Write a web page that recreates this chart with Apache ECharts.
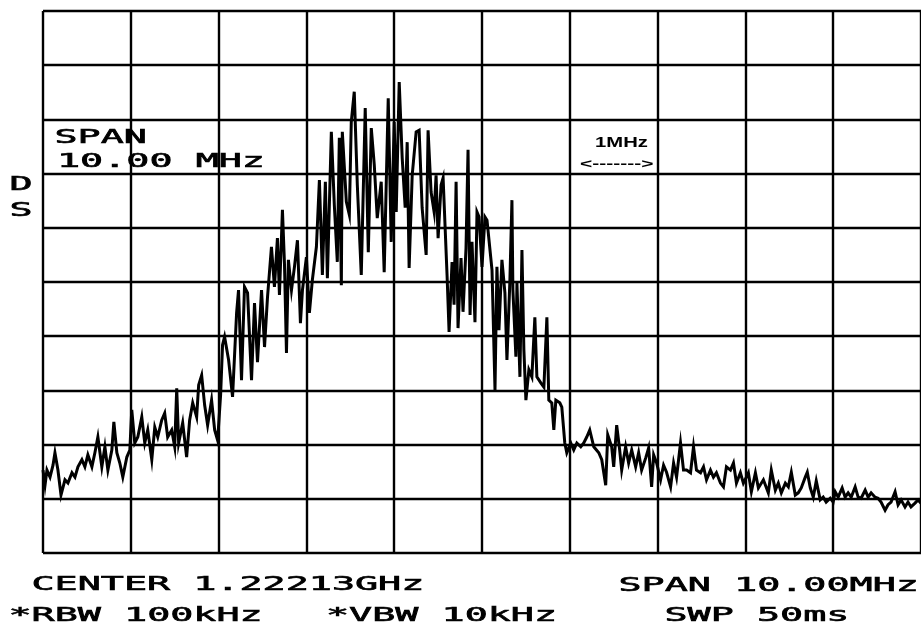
<!DOCTYPE html>
<html>
<head>
<meta charset="utf-8">
<script src="https://cdn.jsdelivr.net/npm/echarts@6/dist/echarts.min.js"></script>
<style>
  html, body { margin: 0; padding: 0; background: #ffffff; }
  #chart { width: 921px; height: 626px; }
</style>
</head>
<body>
<div id="chart"></div>
<script>
// Spectrum analyser trace: frequency offset from centre (MHz) and level (dB below reference)
const freqMHz = [
  -5.000, -4.977, -4.955, -4.920, -4.886, -4.864, -4.830, -4.795, -4.750, -4.716,
  -4.670, -4.636, -4.602, -4.557, -4.523, -4.489, -4.443, -4.409, -4.375, -4.330,
  -4.295, -4.261, -4.216, -4.193, -4.159, -4.125, -4.091, -4.045, -4.011, -3.989,
  -3.955, -3.920, -3.875, -3.841, -3.807, -3.761, -3.727, -3.693, -3.648, -3.614,
  -3.580, -3.534, -3.500, -3.477, -3.455, -3.409, -3.364, -3.330, -3.295, -3.250,
  -3.227, -3.193, -3.159, -3.125, -3.080, -3.045, -3.011, -2.977, -2.955, -2.932,
  -2.886, -2.841, -2.795, -2.773, -2.739, -2.705, -2.670, -2.625, -2.591, -2.557,
  -2.511, -2.477, -2.443, -2.398, -2.364, -2.330, -2.307, -2.273, -2.250, -2.227,
  -2.205, -2.170, -2.136, -2.102, -2.068, -2.045, -2.000, -1.966, -1.932, -1.886,
  -1.852, -1.818, -1.784, -1.761, -1.716, -1.682, -1.648, -1.625, -1.602, -1.591,
  -1.545, -1.511, -1.489, -1.455, -1.420, -1.375, -1.330, -1.295, -1.261, -1.227,
  -1.193, -1.148, -1.114, -1.068, -1.034, -1.000, -0.977, -0.943, -0.909, -0.875,
  -0.852, -0.830, -0.795, -0.750, -0.716, -0.682, -0.636, -0.614, -0.580, -0.545,
  -0.523, -0.500, -0.466, -0.443, -0.398, -0.375, -0.341, -0.318, -0.295, -0.273,
  -0.239, -0.216, -0.182, -0.159, -0.136, -0.114, -0.080, -0.057, -0.034, 0.000,
  0.034, 0.057, 0.091, 0.114, 0.148, 0.170, 0.193, 0.227, 0.261, 0.284,
  0.318, 0.341, 0.352, 0.386, 0.398, 0.432, 0.455, 0.477, 0.500, 0.534,
  0.568, 0.602, 0.625, 0.670, 0.705, 0.739, 0.761, 0.795, 0.818, 0.841,
  0.886, 0.909, 0.943, 0.966, 1.011, 1.045, 1.080, 1.125, 1.159, 1.193,
  1.227, 1.273, 1.330, 1.364, 1.409, 1.432, 1.477, 1.500, 1.534, 1.568,
  1.591, 1.636, 1.670, 1.705, 1.750, 1.784, 1.818, 1.864, 1.898, 1.932,
  1.955, 1.989, 2.034, 2.068, 2.102, 2.148, 2.182, 2.216, 2.261, 2.295,
  2.330, 2.375, 2.409, 2.443, 2.489, 2.523, 2.557, 2.602, 2.636, 2.670,
  2.716, 2.750, 2.784, 2.830, 2.864, 2.898, 2.943, 2.977, 3.011, 3.034,
  3.068, 3.114, 3.148, 3.205, 3.261, 3.295, 3.341, 3.375, 3.409, 3.455,
  3.489, 3.523, 3.568, 3.602, 3.636, 3.682, 3.705, 3.739, 3.773, 3.807,
  3.852, 3.886, 3.920, 3.966, 4.000, 4.023, 4.057, 4.102, 4.136, 4.170,
  4.205, 4.250, 4.284, 4.318, 4.364, 4.398, 4.432, 4.477, 4.511, 4.545,
  4.591, 4.625, 4.659, 4.705, 4.739, 4.773, 4.818, 4.852, 4.886, 4.932,
  4.966, 5.000
];

const levelDb = [
  -84.7, -87.5, -84.7, -86.0, -83.8, -81.5, -84.7, -89.3, -86.5, -87.1,
  -85.2, -86.0, -84.1, -82.8, -84.1, -81.9, -84.1, -81.5, -78.6, -84.1,
  -80.4, -84.7, -81.0, -75.8, -81.5, -83.4, -86.0, -82.3, -81.0, -73.6,
  -79.7, -78.6, -74.9, -79.7, -77.3, -82.8, -76.8, -78.6, -75.5, -74.2,
  -78.6, -77.3, -80.4, -69.6, -79.7, -76.0, -82.3, -75.5, -72.3, -74.9,
  -69.0, -67.2, -72.7, -76.4, -71.8, -77.3, -79.2, -70.8, -61.6, -60.1,
  -64.4, -71.2, -55.7, -51.5, -68.1, -50.9, -52.0, -68.1, -53.9, -64.8,
  -51.5, -62.0, -52.8, -43.5, -50.9, -41.9, -52.4, -36.7, -46.5, -63.1,
  -45.9, -51.5, -47.2, -42.3, -57.6, -51.5, -45.4, -55.7, -49.6, -43.5,
  -31.2, -48.7, -31.5, -49.3, -22.3, -35.8, -46.3, -23.4, -50.6, -22.3,
  -35.2, -37.6, -20.5, -14.9, -32.1, -48.7, -17.9, -44.5, -21.6, -28.4,
  -38.2, -31.5, -48.2, -16.1, -42.6, -20.5, -37.1, -13.1, -27.1, -36.3,
  -24.2, -47.4, -30.3, -22.3, -22.0, -36.3, -45.0, -22.0, -33.4, -37.1,
  -30.3, -41.9, -32.1, -30.8, -48.7, -59.2, -46.3, -54.2, -31.5, -58.5,
  -45.6, -55.5, -43.7, -25.6, -56.1, -42.6, -57.4, -37.1, -38.0, -47.2,
  -38.0, -38.6, -44.1, -47.8, -69.9, -47.2, -58.9, -45.9, -52.0, -64.4,
  -49.6, -34.9, -51.5, -63.8, -50.2, -67.5, -44.1, -62.5, -71.8, -66.2,
  -67.5, -56.5, -67.5, -68.6, -69.4, -56.5, -71.8, -72.3, -77.3, -71.8,
  -72.3, -73.1, -79.7, -81.5, -79.7, -81.0, -79.7, -80.4, -79.7, -78.6,
  -77.3, -80.4, -81.5, -82.8, -87.5, -78.2, -80.4, -84.1, -76.4, -81.0,
  -84.7, -80.4, -83.4, -81.0, -84.1, -81.5, -84.7, -82.5, -80.6, -87.8,
  -81.9, -83.4, -86.5, -83.8, -85.1, -87.8, -83.4, -86.0, -79.7, -84.7,
  -84.7, -85.2, -80.4, -84.7, -85.2, -84.1, -86.5, -84.7, -86.0, -85.2,
  -87.1, -87.8, -84.1, -84.7, -83.4, -87.1, -85.2, -87.1, -86.0, -85.2,
  -88.7, -85.2, -88.0, -86.5, -88.9, -84.7, -88.4, -87.1, -88.9, -87.1,
  -87.8, -85.1, -89.3, -88.9, -88.0, -86.0, -85.1, -88.0, -89.7, -86.7,
  -90.2, -89.7, -90.6, -89.9, -90.6, -88.7, -89.7, -88.0, -89.7, -88.9,
  -89.7, -87.8, -89.7, -89.9, -88.4, -89.7, -88.9, -89.7, -89.9, -90.6,
  -92.1, -91.1, -90.6, -88.7, -91.1, -90.2, -91.5, -90.6, -91.5, -90.8,
  -90.2, -90.8
];

// Screen annotations
const spanNote = ['SPAN', '10.00 MHz'];
const sideMarks = ['D', 'S'];
const scaleNote = ['1MHz', '<------->'];
const footerLeft = ['CENTER 1.22213GHz', '*RBW 100kHz'];
const footerMid = ['*VBW 10kHz'];
const footerRight = ['SPAN 10.00MHz', 'SWP 50ms'];

const PLOT_FONT = '"DejaVu Sans Mono", monospace';

function plotText(str, x, y, opts) {
  opts = opts || {};
  return {
    type: 'text',
    x: x,
    y: y,
    scaleX: opts.scaleX || 2.02,
    z: 10,
    style: {
      text: str,
      fill: '#000',
      stroke: '#000',
      lineWidth: opts.stroke == null ? 0.6 : opts.stroke,
      font: (opts.weight || 'normal') + ' ' + (opts.size || 19) + 'px ' + (opts.family || PLOT_FONT),
      textAlign: 'left',
      textVerticalAlign: 'middle'
    }
  };
}

const chart = echarts.init(document.getElementById('chart'), null, { renderer: 'canvas' });

const gridLine = { show: true, lineStyle: { color: '#000', width: 2.4, type: 'solid' } };

chart.setOption({
  animation: false,
  backgroundColor: '#ffffff',
  grid: { left: 43, top: 11, width: 880, height: 542, containLabel: false },
  xAxis: {
    type: 'value',
    min: -5, max: 5, interval: 1,
    axisLine: { show: false },
    axisTick: { show: false },
    axisLabel: { show: false },
    splitLine: gridLine
  },
  yAxis: {
    type: 'value',
    min: -100, max: 0, interval: 10,
    axisLine: { show: false },
    axisTick: { show: false },
    axisLabel: { show: false },
    splitLine: gridLine
  },
  series: [{
    type: 'line',
    data: freqMHz.map((f, i) => [f, levelDb[i]]),
    showSymbol: false,
    symbol: 'none',
    lineStyle: { color: '#000', width: 3, join: 'miter' },
    z: 5
  }],
  graphic: [
    plotText(spanNote[0], 54.5, 138),
    plotText(spanNote[1], 57, 162),
    plotText(sideMarks[0], 9.5, 185),
    plotText(sideMarks[1], 9.5, 211),
    plotText(scaleNote[0], 595, 143, { family: '"Liberation Sans", Arial, sans-serif', weight: 'bold', size: 15, scaleX: 1.35, stroke: 0 }),
    plotText(scaleNote[1], 580, 165, { family: '"Liberation Sans", Arial, sans-serif', weight: 'bold', size: 12, scaleX: 1.75, stroke: 0 }),
    plotText(footerLeft[0], 31.5, 585),
    plotText(footerLeft[1], 8.5, 616),
    plotText(footerMid[0], 326, 616),
    plotText(footerRight[0], 618.5, 586),
    plotText(footerRight[1], 664.5, 616)
  ]
});
</script>
</body>
</html>
